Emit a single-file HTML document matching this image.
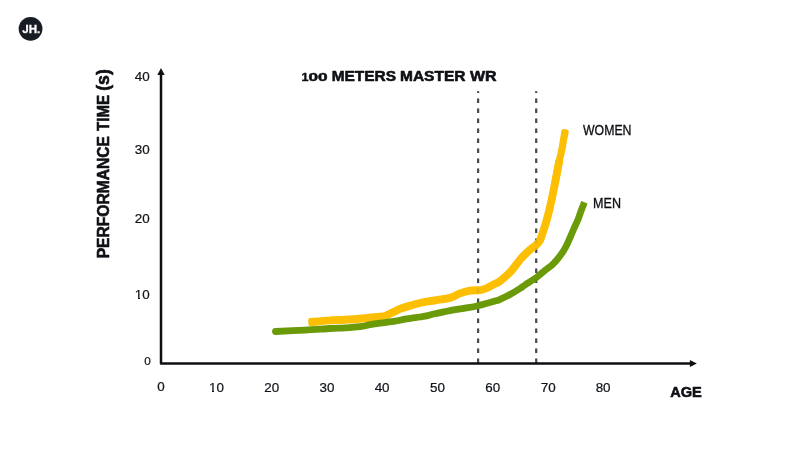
<!DOCTYPE html>
<html lang="en">
<head>
<meta charset="utf-8">
<title>100 Meters Master WR</title>
<style>
html,body{margin:0;padding:0;background:#fff;}
body{width:800px;height:450px;overflow:hidden;position:relative;font-family:"Liberation Sans",sans-serif;}
svg{position:absolute;left:0;top:0;display:block;}
text{font-family:"Liberation Sans",sans-serif;fill:#12161d;}
.tick{font-size:13.4px;fill:#0d0f13;stroke:#0d0f13;stroke-width:0.22px;}
.lab{font-size:13.9px;fill:#0d0f13;stroke:#0d0f13;stroke-width:0.3px;}
.b{font-weight:bold;}
.h{font-weight:bold;fill:#0e1015;stroke:#0e1015;stroke-width:0.6px;stroke-linejoin:round;}
.d{font-size:11.6px;stroke-width:0.45px;}
</style>
</head>
<body>
<svg width="800" height="450" viewBox="0 0 800 450">
  <rect width="800" height="450" fill="#ffffff"/>
  <!-- logo -->
  <circle cx="30.55" cy="28.8" r="11.9" fill="#171c25"/>
  <text x="22.2" y="33.3" class="b" style="font-size:11.6px;fill:#fff;stroke:#fff;stroke-width:0.3px;">JH<tspan style="fill:#f6f0c8;stroke:#f6f0c8;">.</tspan></text>

  <!-- dashed guide lines -->
  <g stroke="#474a50" stroke-width="2.2" stroke-dasharray="4.5 5.5" stroke-dashoffset="2.75" fill="none">
    <line x1="478.1" y1="91.2" x2="478.1" y2="363"/>
    <line x1="536.2" y1="91.2" x2="536.2" y2="363"/>
  </g>

  <!-- curves -->
  <path id="women" fill="none" stroke="#fdbf04" stroke-width="7.9" stroke-linecap="butt" stroke-linejoin="round"
    d="M312.0 321.9 C313.3 321.8 317.0 321.4 320.0 321.2 C323.0 320.9 325.8 320.6 330.0 320.4 C334.2 320.1 340.0 320.0 345.0 319.7 C350.0 319.4 354.2 319.2 360.0 318.7 C365.8 318.2 376.0 317.0 380.0 316.6 C384.0 316.2 382.7 316.5 384.0 316.2 C385.3 315.9 386.3 315.3 388.0 314.6 C389.7 313.9 392.0 312.8 394.0 311.8 C396.0 310.9 397.3 309.9 400.0 308.9 C402.7 307.9 406.7 306.7 410.0 305.7 C413.3 304.7 415.8 303.9 420.0 303.0 C424.2 302.1 430.0 301.2 435.0 300.3 C440.0 299.4 445.8 299.0 450.0 297.9 C454.2 296.8 456.7 294.6 460.0 293.4 C463.3 292.2 466.7 291.2 470.0 290.6 C473.3 290.1 477.2 290.5 480.0 290.1 C482.8 289.7 484.5 289.1 487.0 288.0 C489.5 286.9 492.8 284.8 495.0 283.7 C497.2 282.6 497.5 283.1 500.0 281.2 C502.5 279.3 507.5 274.8 510.0 272.3 C512.5 269.8 513.3 268.3 515.0 266.2 C516.7 264.1 518.3 261.8 520.0 259.8 C521.7 257.8 523.3 256.1 525.0 254.4 C526.7 252.7 528.3 251.2 530.0 249.8 C531.7 248.4 533.7 247.1 535.0 246.0 C536.3 244.9 537.1 244.1 538.0 243.0 C538.9 241.9 539.5 241.7 540.4 239.5 C541.3 237.3 542.5 233.2 543.6 230.0 C544.7 226.8 545.8 223.3 546.7 220.0 C547.7 216.7 548.5 213.3 549.3 210.0 C550.1 206.7 550.9 203.3 551.6 200.0 C552.3 196.7 552.9 193.3 553.6 190.0 C554.3 186.7 555.0 183.3 555.6 180.0 C556.2 176.7 556.9 173.3 557.5 170.0 C558.1 166.7 559.2 161.7 559.5 160.0"/>
  <path fill="none" stroke="#fdbf04" stroke-width="7.2" stroke-linecap="butt" stroke-linejoin="round"
    d="M555.6 180.0 C555.9 178.3 556.9 173.3 557.5 170.0 C558.1 166.7 558.8 163.3 559.5 160.0 C560.2 156.7 561.1 153.3 561.8 150.0 C562.5 146.7 563.0 142.9 563.5 140.0 C564.0 137.1 564.7 133.7 564.9 132.4"/>
  <rect x="308.3" y="317.95" width="8" height="7.9" rx="2" ry="2" fill="#fdbf04" transform="rotate(-3 312 321.9)"/>
  <rect x="-3.6" y="-3.2" width="7.2" height="8" rx="2" ry="2" fill="#fdbf04" transform="translate(564.9 132.4) rotate(10.5)"/>
  <path id="men" fill="none" stroke="#6a9a08" stroke-width="6.8" stroke-linecap="butt" stroke-linejoin="round"
    d="M275.5 331.5 C280.4 331.3 295.9 330.6 305.0 330.1 C314.1 329.6 323.3 328.9 330.0 328.5 C336.7 328.1 340.0 328.2 345.0 327.9 C350.0 327.6 355.8 327.2 360.0 326.7 C364.2 326.2 366.7 325.3 370.0 324.7 C373.3 324.1 375.8 323.7 380.0 323.1 C384.2 322.5 390.8 321.9 395.0 321.2 C399.2 320.5 400.8 319.9 405.0 319.2 C409.2 318.5 416.7 317.5 420.0 317.0 C423.3 316.5 422.5 316.7 425.0 316.2 C427.5 315.7 430.8 314.7 435.0 313.8 C439.2 312.9 445.0 311.5 450.0 310.6 C455.0 309.7 460.3 309.0 465.0 308.2 C469.7 307.4 473.0 307.0 478.0 305.8 C483.0 304.6 491.3 302.2 495.0 301.1 C498.7 300.0 497.5 300.5 500.0 299.4 C502.5 298.3 506.7 296.3 510.0 294.5 C513.3 292.7 517.5 290.1 520.0 288.5 C522.5 286.9 522.3 286.8 525.0 285.0 C527.7 283.2 533.5 279.6 536.0 277.8 C538.5 276.1 538.4 275.8 540.0 274.5 C541.6 273.2 543.8 271.3 545.6 269.9 C547.5 268.4 549.6 267.1 551.1 265.8 C552.6 264.6 553.3 263.8 554.6 262.4 C555.9 261.0 557.4 259.3 558.7 257.6 C560.1 255.9 561.5 254.0 562.7 252.2 C563.9 250.4 564.9 248.5 565.9 246.7 C566.9 244.8 567.3 243.9 568.5 241.1 C569.7 238.3 571.8 233.5 573.3 230.0 C574.8 226.5 576.4 223.3 577.8 220.0 C579.1 216.7 580.3 213.0 581.4 210.0 C582.5 207.0 583.9 203.5 584.4 202.2"/>
  <circle cx="275.5" cy="331.5" r="3.4" fill="#6a9a08"/>

  <g stroke="#474a50" stroke-width="2.2" stroke-dasharray="4.5 5.5" stroke-dashoffset="2.75" fill="none" opacity="0.13">
    <line x1="478.1" y1="91.2" x2="478.1" y2="363"/>
    <line x1="536.2" y1="91.2" x2="536.2" y2="363"/>
  </g>

  <!-- axes -->
  <path d="M161 73.5 L161 363.45 L691 363.45" fill="none" stroke="#0d0f13" stroke-width="2.5" stroke-linejoin="round"/>
  <path d="M161 68.1 L164.7 74.9 L157.3 74.9 Z" fill="#0d0f13"/>
  <path d="M696.9 363.5 L689.9 359.9 L689.9 367.1 Z" fill="#0d0f13"/>

  <!-- title -->
  <text class="h" y="81.1" style="font-size:15px;"><tspan class="d" x="301.4" textLength="7" lengthAdjust="spacingAndGlyphs">1</tspan><tspan class="d" x="308.6" textLength="9.6" lengthAdjust="spacingAndGlyphs">0</tspan><tspan class="d" x="318.0" textLength="9.6" lengthAdjust="spacingAndGlyphs">0</tspan><tspan> </tspan><tspan x="331.7" textLength="64.4" lengthAdjust="spacingAndGlyphs">METERS</tspan><tspan> </tspan><tspan x="400" textLength="65.5" lengthAdjust="spacingAndGlyphs">MASTER</tspan><tspan> </tspan><tspan x="470" textLength="26.6" lengthAdjust="spacingAndGlyphs">WR</tspan></text>

  <!-- y ticks -->
  <g class="tick" text-anchor="end">
    <text x="149.7" y="81.1">40</text>
    <text x="149.7" y="154.2">30</text>
    <text x="149.7" y="223">20</text>
    <text x="149.7" y="299.2">10</text>
    <text x="150.9" y="364.7" style="font-size:11.8px;">0</text>
  </g>
  <!-- x ticks -->
  <g class="tick" text-anchor="middle">
    <text x="160.9" y="390.6">0</text>
    <text x="216.5" y="392.3">10</text>
    <text x="271.7" y="392.3">20</text>
    <text x="327" y="392.3">30</text>
    <text x="382.1" y="392.3">40</text>
    <text x="437.4" y="392.3">50</text>
    <text x="492.8" y="392.3">60</text>
    <text x="548.2" y="392.3">70</text>
    <text x="603.1" y="392.3">80</text>
  </g>
  <!-- trim the foot serif of the digit 1 and the bar of J so they read like the reference face -->
  <g fill="#ffffff">
    <rect x="134.4" y="297.9" width="3.6" height="1.4"/>
    <rect x="140" y="297.9" width="2.4" height="1.4"/>
    <rect x="208.4" y="390.9" width="3.6" height="1.4"/>
    <rect x="214" y="390.9" width="2.4" height="1.4"/>
  </g>
  <rect x="23.4" y="23.6" width="2.6" height="3.5" fill="#171c25"/>
  <text x="670.2" y="397.2" class="h" style="font-size:15px;" textLength="31.6" lengthAdjust="spacingAndGlyphs">AGE</text>
  <text x="583" y="134.6" class="lab" textLength="48.5" lengthAdjust="spacingAndGlyphs">WOMEN</text>
  <text x="593.1" y="208.1" class="lab" textLength="27.9" lengthAdjust="spacingAndGlyphs">MEN</text>
  <text transform="translate(109 258.3) rotate(-90)" class="h" style="font-size:16.4px;"><tspan x="0" textLength="122.3" lengthAdjust="spacingAndGlyphs">PERFORMANCE</tspan><tspan> </tspan><tspan x="127.3" textLength="36" lengthAdjust="spacingAndGlyphs">TIME</tspan><tspan> </tspan><tspan x="167.5" style="font-size:17.5px;" textLength="21.6" lengthAdjust="spacingAndGlyphs">(s)</tspan></text>
</svg>
</body>
</html>
